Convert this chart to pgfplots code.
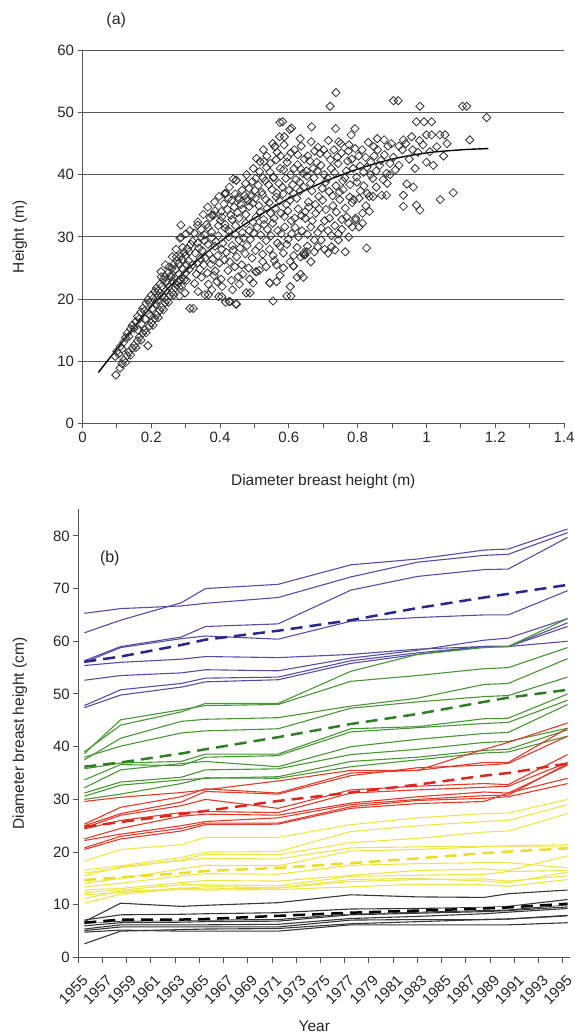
\documentclass[border=0pt]{standalone}
\usepackage{fontspec}
\setmainfont{Liberation Sans}
\usepackage{pgfplots}
\usepackage{pgfplotstable}
\pgfplotsset{compat=1.18}
\definecolor{cb}{RGB}{85,78,168}
\definecolor{cbd}{RGB}{40,40,140}
\definecolor{cg}{RGB}{72,150,52}
\definecolor{cgd}{RGB}{50,125,40}
\definecolor{cr}{RGB}{228,58,42}
\definecolor{crd}{RGB}{220,40,30}
\definecolor{cy}{RGB}{238,230,72}
\definecolor{cyd}{RGB}{236,222,40}
\definecolor{ck}{RGB}{55,55,55}
\definecolor{ax}{RGB}{85,85,85}

\pgfplotstableread{
yr B1 B2 B3 B4 B5 B6 B7 B8 Bm
1955.5 65.3 61.6 56.3 56.0 55.4 52.6 47.8 47.4 56.1
1958.5 66.2 64.0 59.0 58.8 56.0 53.5 50.8 49.8 57.1
1963.5 66.7 67.3 60.8 60.5 56.6 54.0 52.0 51.3 59.3
1965.5 67.2 70.0 62.8 61.0 57.1 54.6 53.0 52.3 60.3
1971.5 68.3 70.8 63.3 60.4 56.9 54.4 53.2 52.7 62.0
1977.5 72.2 74.5 69.7 63.8 57.5 56.8 56.3 55.8 64.0
1983.0 75.0 75.6 72.3 64.5 58.5 58.3 57.8 57.5 66.3
1988.5 76.3 77.3 73.6 65.0 59.0 60.2 59.0 59.0 68.3
1990.5 76.5 77.5 73.7 65.0 59.0 60.6 59.0 59.0 69.0
1995.4 80.6 81.3 79.7 69.6 60.0 64.3 63.5 62.8 70.7
}\blue

\pgfplotstableread{
yr G1 G2 G3 G4 G5 G6 G7 G8 G9 G10 Gm
1955.5 39.0 38.7 37.5 38.0 35.8 33.7 32.2 31.2 30.6 30.0 36.2
1958.5 44.1 45.1 41.6 40.1 36.9 36.6 35.6 33.3 32.7 31.0 37.0
1963.5 46.6 47.0 44.8 42.6 37.2 36.4 36.8 34.2 33.7 33.0 38.7
1965.5 48.2 47.8 45.2 43.0 38.6 38.0 37.2 35.6 34.0 34.1 39.5
1971.5 48.2 48.0 45.5 43.4 38.6 38.3 36.2 35.8 34.3 34.0 41.8
1977.5 54.3 52.4 47.7 47.3 43.4 42.8 40.0 38.5 37.2 36.2 44.3
1983.0 57.5 53.5 49.2 48.5 43.8 43.6 41.4 39.5 38.0 37.5 46.2
1988.5 58.8 54.8 51.8 49.5 45.3 44.4 42.5 40.8 39.3 38.8 48.5
1990.5 59.0 55.0 52.0 49.7 45.4 44.6 42.7 41.0 39.5 39.0 49.3
1995.4 64.3 58.8 56.7 53.2 50.0 48.8 48.0 43.5 43.2 42.0 50.8
}\green

\pgfplotstableread{
yr R1 R2 R3 R4 R5 R6 R7 R8 R9 Rm
1955.5 29.6 25.3 25.0 24.6 24.4 22.5 22.2 20.8 20.5 24.8
1958.5 30.4 28.5 27.3 27.0 26.0 24.5 23.4 23.0 22.5 25.7
1963.5 31.3 30.5 29.5 28.8 27.5 26.8 25.0 24.5 24.0 27.2
1965.5 31.8 32.0 31.5 30.0 27.7 27.2 25.8 25.5 25.2 27.8
1971.5 33.5 31.2 31.0 28.3 27.5 27.0 26.5 25.5 25.3 29.7
1977.5 35.5 35.0 34.5 31.8 31.2 29.3 29.0 28.6 28.3 31.3
1983.0 35.5 35.5 36.0 32.5 31.8 30.5 30.0 29.8 29.2 32.8
1988.5 39.5 37.0 36.5 33.0 32.3 31.4 30.7 30.2 29.6 34.5
1990.5 40.8 37.0 36.8 32.8 32.5 31.2 30.8 30.5 31.2 35.0
1995.4 44.5 43.5 42.0 38.5 37.0 34.0 36.8 33.0 36.5 36.8
}\red

\pgfplotstableread{
yr Y1 Y2 Y3 Y4 Y5 Y6 Y7 Y8 Y9 Y10 Y11 Ym
1955.5 18.3 16.6 16.0 15.5 14.1 13.4 12.8 12.3 11.9 11.2 10.3 14.7
1958.5 20.5 17.4 17.0 17.2 15.0 14.1 13.1 12.8 12.3 12.6 12.0 15.2
1963.5 21.4 19.0 18.5 18.4 16.8 15.5 14.2 13.8 13.2 12.9 13.0 16.0
1965.5 22.8 20.0 19.6 18.8 17.5 15.9 14.6 13.8 13.0 12.8 13.5 16.4
1971.5 22.8 20.1 19.5 18.7 17.4 15.8 14.5 13.6 13.2 12.9 13.2 17.0
1977.5 25.2 23.9 21.8 20.8 20.2 17.5 15.6 15.4 14.4 13.4 14.8 17.9
1983.0 26.5 25.0 22.6 21.0 20.5 17.8 16.5 15.6 14.8 13.9 15.0 18.8
1988.5 27.3 25.8 23.8 21.1 21.0 18.0 16.8 15.8 14.9 13.8 14.5 19.8
1990.5 27.4 26.0 24.0 21.2 21.0 18.0 16.5 16.3 14.5 13.5 14.2 20.1
1995.4 30.0 29.0 27.3 21.4 21.0 17.0 19.3 16.5 15.5 14.8 16.2 20.7
}\yellow

\pgfplotstableread{
yr K1 K2 K3 K4 K5 K6 K7 K8 Km
1955.5 6.8 7.1 6.5 6.0 5.4 5.1 4.8 2.6 6.6
1958.5 10.3 8.1 6.9 6.6 6.2 5.8 5.2 5.0 7.2
1963.5 9.7 8.2 7.0 6.7 6.2 5.8 5.0 5.3 7.2
1965.5 9.9 8.3 7.1 6.8 6.2 5.8 5.0 5.4 7.3
1971.5 10.4 8.5 7.2 6.9 6.3 5.8 5.0 5.5 7.9
1977.5 11.9 9.2 8.3 8.1 7.4 7.1 6.2 6.4 8.5
1983.0 11.5 9.3 8.6 8.4 7.8 7.2 6.2 6.8 8.9
1988.5 11.4 9.5 8.9 8.7 8.3 7.2 6.2 7.2 9.3
1990.5 12.1 9.7 9.0 8.9 8.6 7.3 6.2 7.3 9.5
1995.4 12.8 11.0 10.0 9.6 9.3 7.9 6.6 8.0 10.2
}\black

\pgfplotstableread{
d h
0.095 10.8
0.100 11.6
0.105 11.2
0.110 12.4
0.115 12.0
0.120 13.1
0.125 13.8
0.130 14.5
0.135 14.0
0.140 15.2
0.145 15.8
0.150 15.3
0.155 16.4
0.160 17.2
0.165 16.8
0.170 17.9
0.175 18.5
0.180 18.1
0.185 19.3
0.190 19.9
0.195 19.4
0.200 20.6
0.205 20.1
0.210 21.2
0.215 21.8
0.220 21.3
0.225 22.4
0.230 22.0
0.235 23.1
0.240 23.6
0.245 22.8
0.250 24.3
0.255 23.7
0.260 24.9
0.265 25.5
0.270 24.8
0.275 26.2
0.280 25.7
0.285 26.9
0.290 26.3
0.295 27.5
0.300 27.0
0.305 28.1
0.310 27.6
0.315 28.8
0.320 29.3
0.097 7.8
0.109 8.9
0.115 9.6
0.120 10.2
0.125 9.8
0.130 10.9
0.135 11.5
0.140 11.0
0.145 12.1
0.150 12.6
0.155 12.2
0.160 13.3
0.165 13.9
0.170 13.4
0.175 14.5
0.180 15.0
0.185 14.6
0.190 12.5
0.195 15.7
0.200 16.2
0.205 15.8
0.210 16.9
0.215 17.5
0.220 17.0
0.225 18.2
0.230 18.7
0.235 18.3
0.240 19.4
0.245 19.9
0.250 19.5
0.255 20.6
0.260 21.1
0.265 20.7
0.270 21.8
0.275 22.3
0.280 21.9
0.285 23.0
0.290 23.5
0.295 23.1
0.300 24.2
0.310 24.8
0.320 25.5
0.162 15.0
0.171 16.0
0.183 16.8
0.192 17.6
0.203 18.5
0.212 19.2
0.218 19.8
0.232 20.6
0.243 21.4
0.251 22.0
0.262 22.8
0.268 23.4
0.281 24.0
0.292 24.8
0.303 25.5
0.308 26.2
0.198 17.3
0.221 20.5
0.238 20.2
0.258 23.6
0.277 22.8
0.302 23.0
0.252 25.2
0.273 26.8
0.291 28.3
0.229 23.6
0.282 20.5
0.3125 18.5
0.322 18.5
0.288 22.1
0.298 21.0
0.228 24.4
0.286 31.9
0.286 29.9
0.335 31.9
0.283 29.8
0.261 26.8
0.272 28.0
0.301 30.5
0.312 31.0
0.241 25.5
0.326 22.5
0.333 25.8
0.328 27.4
0.335 29.0
0.325 30.6
0.331 24.0
0.336 21.2
0.343 26.5
0.338 28.2
0.345 30.0
0.335 32.4
0.341 24.8
0.346 23.5
0.353 25.5
0.348 27.8
0.355 29.4
0.345 31.2
0.351 33.6
0.356 20.7
0.363 24.2
0.358 26.6
0.365 28.8
0.355 30.3
0.361 32.0
0.364 34.8
0.366 22.4
0.373 25.6
0.368 27.2
0.375 29.9
0.365 31.5
0.371 33.1
0.376 21.5
0.383 23.8
0.378 26.4
0.385 28.5
0.375 30.8
0.381 33.5
0.384 35.6
0.386 24.5
0.393 27.0
0.388 29.2
0.395 31.8
0.385 34.2
0.391 22.8
0.396 20.4
0.403 23.2
0.398 25.8
0.405 28.0
0.395 30.2
0.401 32.6
0.404 34.1
0.397 36.5
0.406 22.0
0.413 26.3
0.408 29.0
0.415 31.4
0.405 33.2
0.411 35.3
0.414 37.0
0.416 19.5
0.423 24.6
0.418 27.5
0.425 30.0
0.415 32.0
0.421 34.4
0.424 36.2
0.426 19.6
0.433 23.0
0.428 26.0
0.435 28.6
0.425 31.0
0.431 33.5
0.434 35.9
0.427 38.0
0.436 21.5
0.443 25.2
0.438 27.9
0.445 30.4
0.435 32.8
0.441 34.8
0.444 36.9
0.446 19.2
0.453 23.6
0.448 26.8
0.455 29.5
0.445 31.8
0.451 33.9
0.454 36.0
0.447 39.1
0.456 22.4
0.463 25.5
0.458 28.2
0.465 30.7
0.455 33.0
0.461 35.2
0.464 37.5
0.466 24.0
0.473 27.3
0.468 29.8
0.475 32.2
0.465 34.5
0.471 36.7
0.474 38.6
0.476 21.0
0.483 25.0
0.478 28.6
0.485 31.0
0.475 33.6
0.481 35.8
0.484 37.8
0.477 40.0
0.486 23.2
0.493 26.6
0.488 29.6
0.495 32.4
0.485 34.9
0.491 36.5
0.494 38.9
0.496 22.6
0.503 27.8
0.498 30.6
0.505 33.2
0.495 35.4
0.501 37.5
0.504 39.4
0.497 41.0
0.376 33.5
0.414 36.9
0.453 36.4
0.477 36.2
0.438 39.3
0.417 37.0
0.447 39.1
0.366 20.7
0.405 20.4
0.429 19.6
0.448 19.2
0.487 21.0
0.504 24.4
0.514 28.5
0.508 31.5
0.517 34.0
0.503 36.2
0.511 38.3
0.515 40.5
0.506 42.6
0.514 24.6
0.524 27.2
0.518 30.3
0.527 32.8
0.513 35.0
0.521 37.2
0.525 39.5
0.516 42.1
0.524 26.0
0.534 29.4
0.528 32.0
0.537 34.6
0.523 36.8
0.531 39.0
0.535 41.2
0.526 44.0
0.534 25.2
0.544 28.0
0.538 31.2
0.547 33.8
0.533 36.0
0.541 38.4
0.545 40.4
0.536 43.0
0.544 22.6
0.554 27.0
0.548 30.2
0.557 33.0
0.543 35.5
0.551 37.6
0.555 39.5
0.546 41.8
0.553 45.0
0.554 19.7
0.564 22.8
0.558 26.2
0.567 29.0
0.553 32.2
0.561 34.6
0.565 37.0
0.556 39.6
0.563 42.4
0.559 44.5
0.564 25.5
0.574 28.5
0.568 31.0
0.577 33.8
0.563 36.4
0.571 38.6
0.575 41.0
0.566 43.6
0.573 46.1
0.574 23.8
0.584 27.4
0.578 30.5
0.587 33.3
0.573 35.8
0.581 38.0
0.585 40.8
0.576 43.0
0.584 25.0
0.594 28.8
0.588 31.6
0.597 34.2
0.583 36.9
0.591 39.4
0.595 42.0
0.586 44.8
0.594 20.5
0.604 26.0
0.598 29.6
0.607 32.6
0.593 35.2
0.601 37.5
0.605 40.0
0.596 42.8
0.604 22.0
0.614 27.0
0.608 30.5
0.617 33.0
0.603 35.9
0.611 38.4
0.615 41.0
0.606 43.5
0.614 25.3
0.624 28.3
0.618 31.5
0.627 34.5
0.613 37.0
0.621 39.2
0.625 41.6
0.616 44.0
0.624 23.5
0.634 26.8
0.628 30.0
0.637 33.4
0.623 36.2
0.631 38.8
0.635 40.9
0.626 43.2
0.633 45.8
0.634 24.0
0.644 27.5
0.638 31.0
0.647 34.0
0.633 37.4
0.641 40.2
0.645 42.5
0.636 44.6
0.644 27.1
0.654 30.4
0.648 33.0
0.657 35.6
0.643 38.0
0.651 40.6
0.655 43.0
0.654 28.5
0.664 31.6
0.658 34.8
0.667 37.4
0.653 39.8
0.661 42.2
0.665 45.3
0.664 26.0
0.674 29.5
0.668 32.6
0.677 35.2
0.663 38.6
0.671 41.0
0.675 43.8
0.666 47.7
0.674 27.6
0.684 30.7
0.678 33.8
0.687 36.5
0.673 39.5
0.681 42.0
0.685 44.4
0.684 28.4
0.694 31.4
0.688 34.5
0.697 37.8
0.683 40.6
0.691 43.4
0.694 29.5
0.704 32.6
0.698 35.9
0.707 38.8
0.693 41.5
0.701 44.0
0.582 48.5
0.608 47.5
0.528 42.1
0.560 44.5
0.587 46.1
0.574 48.4
0.603 47.3
0.652 27.6
0.545 22.6
0.606 20.5
0.642 23.5
0.613 25.3
0.647 27.1
0.506 24.4
0.704 28.0
0.714 31.0
0.708 34.4
0.717 37.3
0.703 40.0
0.711 43.2
0.715 45.5
0.714 27.4
0.724 30.2
0.718 33.0
0.727 36.6
0.713 39.4
0.721 42.4
0.720 51.0
0.724 28.4
0.734 31.8
0.728 35.0
0.737 38.2
0.723 41.0
0.731 44.0
0.737 53.2
0.734 27.9
0.744 30.5
0.738 34.0
0.747 37.2
0.733 40.3
0.741 42.8
0.745 45.3
0.736 47.4
0.744 29.5
0.754 32.8
0.748 36.0
0.757 39.0
0.743 41.8
0.751 45.0
0.754 31.2
0.764 34.6
0.758 37.6
0.767 40.6
0.753 43.5
0.764 27.6
0.774 30.0
0.768 33.2
0.777 36.4
0.763 39.5
0.771 42.2
0.775 44.8
0.774 32.2
0.784 35.5
0.778 38.4
0.787 41.0
0.773 43.8
0.781 46.4
0.784 31.6
0.794 32.7
0.788 36.0
0.797 39.6
0.783 42.5
0.792 47.4
0.794 33.0
0.804 36.2
0.798 38.8
0.807 41.4
0.793 44.2
0.804 31.6
0.814 33.8
0.808 37.4
0.817 40.4
0.803 43.0
0.814 32.2
0.824 35.0
0.818 38.2
0.827 41.2
0.813 44.0
0.826 28.2
0.834 34.1
0.828 37.0
0.837 40.0
0.823 42.8
0.831 45.2
0.834 36.5
0.844 39.4
0.838 42.0
0.847 44.5
0.845 36.5
0.854 40.6
0.848 43.0
0.857 45.8
0.854 38.0
0.864 41.5
0.858 44.0
0.870 36.7
0.874 39.2
0.868 42.3
0.877 45.6
0.884 36.7
0.884 40.2
0.878 43.2
0.886 38.6
0.894 41.8
0.888 44.6
0.894 40.0
0.904 42.8
0.898 45.0
0.904 51.9
0.918 51.9
0.920 41.5
0.930 44.0
0.933 45.6
0.933 36.7
0.933 34.9
0.940 45.0
0.943 38.5
0.950 42.5
0.957 46.1
0.962 38.0
0.967 41.0
0.971 48.5
0.971 35.1
0.975 43.6
0.981 51.0
0.981 34.3
0.990 44.8
0.993 48.5
1.000 46.4
1.000 42.0
1.010 43.7
1.015 48.5
1.015 46.4
1.020 41.5
1.030 44.5
1.039 46.4
1.040 36.0
1.050 43.0
1.054 46.4
1.078 37.1
1.105 51.0
1.117 51.0
1.126 45.6
1.175 49.2
0.910 40.8
0.920 44.6
0.960 44.0
0.980 45.5
1.060 45.0
}\scatter

\pgfplotstableread{
d h
0.046 8.2
0.10 12.0
0.15 15.5
0.20 18.8
0.25 21.8
0.30 24.5
0.35 27.0
0.40 29.2
0.45 31.2
0.50 33.0
0.60 36.2
0.70 38.8
0.80 40.9
0.90 42.5
1.00 43.5
1.10 44.0
1.18 44.2
}\fit

\begin{document}
\begin{tikzpicture}
\path[use as bounding box] (0pt,0pt) rectangle (575pt,1033pt);
\begin{axis}[
  at={(82.5pt,609.5pt)}, anchor=south west,
  scale only axis, width=481.5pt, height=373.2pt,
  xmin=0, xmax=1.4, ymin=0, ymax=60,
  axis x line=bottom, axis y line=left,
  axis line style={-, draw=ax, line width=1.1pt},
  xtick={0,0.2,0.4,0.6,0.8,1,1.2,1.4},
  minor xtick={0.1,0.3,0.5,0.7,0.9,1.1,1.3},
  ytick={0,10,20,30,40,50,60},
  tick align=outside, major tick length=5pt, minor tick length=5pt,
  every tick/.style={draw=ax, line width=1pt},
  ymajorgrids, grid style={draw=ax, line width=1.1pt},
  /pgf/number format/assume math mode=true,
  ticklabel style={font=\fontsize{15}{15}\selectfont, text=black!85},
  xlabel={Diameter breast height (m)},
  ylabel={Height (m)},
  label style={font=\fontsize{15.5}{16}\selectfont, text=black!85},
  xlabel style={at={(axis description cs:0.5,-0.155)}, anchor=center},
  ylabel style={at={(axis description cs:-0.13,0.5)}, anchor=center},
  clip=false,
]
\addplot[only marks, mark=square, mark size=2.9pt,
  mark options={rotate=45, fill=white, draw=black!80, line width=0.8pt}] table[x=d,y=h] {\scatter};
\addplot[black, line width=1.4pt, smooth] table[x=d,y=h] {\fit};
\node[font=\fontsize{16}{16}\selectfont, text=black!85] at (rel axis cs:0.07,1.081) {(a)};
\end{axis}

\begin{axis}[
  at={(78.3pt,75.5pt)}, anchor=south west,
  scale only axis, width=491.7pt, height=448pt,
  xmin=1955, xmax=1995.6, ymin=0, ymax=85,
  axis x line=bottom, axis y line=left,
  axis line style={-, draw=ax, line width=1.1pt},
  xtick={1955,1957,...,1995},
  ytick={0,10,20,30,40,50,60,70,80},
  tick align=outside, major tick length=5pt,
  every tick/.style={draw=ax, line width=1pt},
  /pgf/number format/assume math mode=true,
  /pgf/number format/1000 sep={},
  ticklabel style={font=\fontsize{15}{15}\selectfont, text=black!85},
  xticklabel style={yshift=-10pt, xshift=3pt, rotate=45, anchor=north east, font=\fontsize{15}{15}\selectfont, inner sep=1pt},
  xlabel={Year},
  ylabel={Diameter breast height (cm)},
  label style={font=\fontsize{15.5}{16}\selectfont, text=black!85},
  xlabel style={at={(axis description cs:0.48,-0.153)}, anchor=center},
  ylabel style={at={(axis description cs:-0.1186,0.5)}, anchor=center},
  clip=false,
  thin line/.style={line width=1.1pt},
  mean line/.style={line width=2.5pt, dash pattern=on 12pt off 7pt},
]
\foreach \c in {B1,B2,B3,B4,B5,B6,B7,B8} {
  \addplot[cb, thin line] table[x=yr,y=\c] {\blue};
}
\addplot[cbd, mean line] table[x=yr,y=Bm] {\blue};
\foreach \c in {G1,G2,G3,G4,G5,G6,G7,G8,G9,G10} {
  \addplot[cg, thin line] table[x=yr,y=\c] {\green};
}
\addplot[cgd, mean line] table[x=yr,y=Gm] {\green};
\foreach \c in {R1,R2,R3,R4,R5,R6,R7,R8,R9} {
  \addplot[cr, thin line] table[x=yr,y=\c] {\red};
}
\addplot[crd, mean line] table[x=yr,y=Rm] {\red};
\foreach \c in {Y1,Y2,Y3,Y4,Y5,Y6,Y7,Y8,Y9,Y10,Y11} {
  \addplot[cy, thin line] table[x=yr,y=\c] {\yellow};
}
\addplot[cyd, mean line] table[x=yr,y=Ym] {\yellow};
\foreach \c in {K1,K2,K3,K4,K5,K6,K7,K8} {
  \addplot[ck, thin line] table[x=yr,y=\c] {\black};
}
\addplot[white, line width=2.2pt] table[x=yr,y=Km] {\black};
\addplot[black, mean line] table[x=yr,y=Km] {\black};
\node[font=\fontsize{16}{16}\selectfont, text=black!85] at (axis cs:1957.6,75.8) {(b)};
\end{axis}
\end{tikzpicture}
\end{document}
